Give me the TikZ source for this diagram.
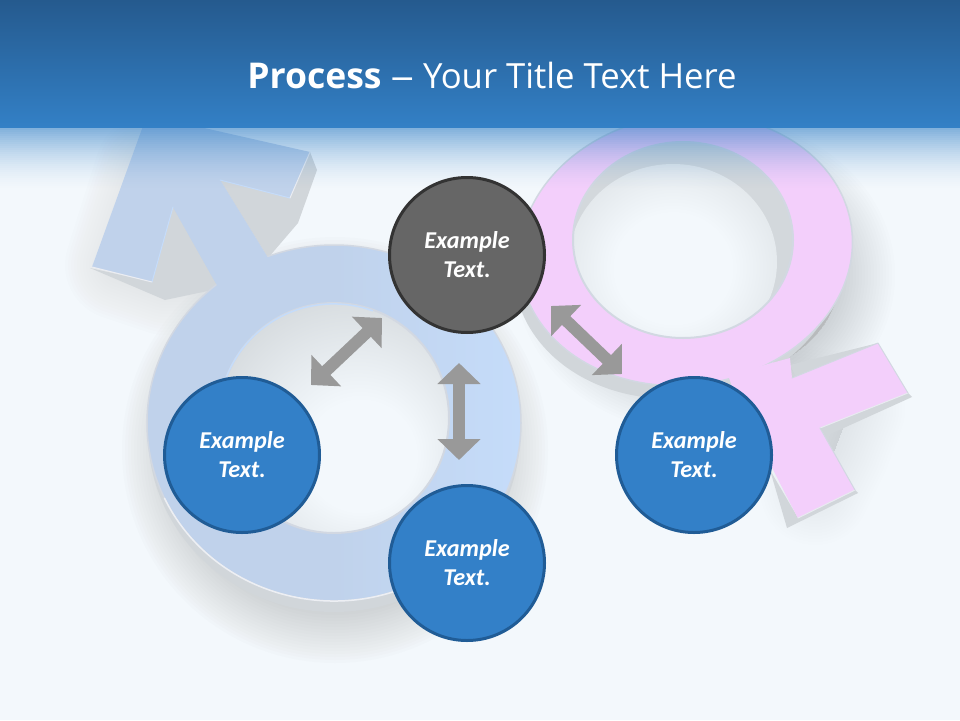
\documentclass[tikz,border=0pt]{standalone}
\usepackage{fontspec}
\setmainfont{Open Sans}
\newfontfamily\bodyFont{Carlito}
\usetikzlibrary{arrows.meta}
\definecolor{bgColor}{RGB}{243,248,252}
\definecolor{bandTop}{RGB}{37,90,142}
\definecolor{bandBottom}{RGB}{51,128,198}
\definecolor{stepBlue}{RGB}{51,128,200}
\definecolor{stepBlueEdge}{RGB}{32,92,150}
\definecolor{stepGray}{RGB}{102,102,102}
\definecolor{stepGrayEdge}{RGB}{51,51,51}
\definecolor{arrowGray}{RGB}{153,153,153}
\definecolor{maleFaceDark}{RGB}{192,210,235}
\definecolor{maleFaceLight}{RGB}{197,220,250}
\definecolor{femaleFace}{RGB}{243,207,251}
\definecolor{depthGray}{RGB}{209,214,218}
\definecolor{rimGray}{RGB}{210,216,226}
\definecolor{holeGray}{RGB}{198,203,206}
\pgfdeclareradialshading{maleHoleShade}{\pgfpoint{7bp}{-10bp}}{color(0bp)=(bgColor); color(12bp)=(bgColor); color(44bp)=(holeGray); color(70bp)=(holeGray)}
\pgfdeclareradialshading{femaleHoleShade}{\pgfpoint{0bp}{-2bp}}{color(0bp)=(bgColor); color(14bp)=(bgColor); color(50bp)=(holeGray); color(70bp)=(holeGray)}
\tikzstyle{picUnits} = [x = 1pt, y = -1pt]
\tikzstyle{shadowLayer} = [draw=black!55, fill=black!55, line join=round]
\tikzstyle{stepCircle} = [circle, minimum size=155pt, inner sep=0pt, line width=3pt, text=white, align=center, font=\bodyFont\fontsize{24.2}{29}\selectfont\bfseries\itshape]
\tikzstyle{blueStep} = [stepCircle, fill=stepBlue, draw=stepBlueEdge]
\tikzstyle{grayStep} = [stepCircle, fill=stepGray, draw=stepGrayEdge]
\tikzstyle{blockArrow} = [draw=arrowGray, line width=12pt, {Triangle[width=42pt,length=21pt,fill=arrowGray]}-{Triangle[width=42pt,length=21pt,fill=arrowGray]}]
\tikzstyle{bevelLine} = [line width=1pt, line cap=round, line join=round]
\newcommand{\softShadow}[2]{
  \foreach \spread in {2,8,...,110} {
    \filldraw [shadowLayer, opacity=#1, line width=\spread] #2;
  }
}
\newcommand{\bandEdge}{
  \foreach \row in {0,...,31} {
    \pgfmathsetmacro{\rowTop}{126 + 2 * \row}
    \pgfmathsetmacro{\rowFade}{.62 * (1 - \row / 32) ^ 1.7}
    \fill [bandBottom, opacity=\rowFade] (0,\rowTop) rectangle (960,\rowTop + 2);
  }
}
\newcommand{\maleArm}{(147,115) -- (310,152) -- (290,198) -- (220,180) -- (268,258) -- (290,300) -- (240,320) -- (218,287) -- (173,207) -- (152,282) -- (92,267) -- cycle}
\newcommand{\femaleHandle}{(770,360) -- (792,378) -- (878,343) -- (908,393) -- (820,428) -- (855,490) -- (798,518) -- (735,395) -- cycle}
\begin{document}
\begin{tikzpicture}[picUnits]
  \useasboundingbox (0,0) rectangle (960,720);
  \fill [bgColor] (0,0) rectangle (960,720);

  % soft shadows first
  \softShadow{.014}{(335,450) ellipse [x radius=158, y radius=158]}
  \softShadow{.008}{(120,265) -- (165,280) -- (200,280) -- (210,220) -- (150,170) -- cycle}
  \softShadow{.013}{(705,275) ellipse [x radius=135, y radius=105]}
  \softShadow{.005}{(800,400) -- (850,410) -- (835,450) -- (815,490) -- cycle}

  % male symbol
  \fill [depthGray] (334,433) ellipse [x radius=186, y radius=179];
  \fill [depthGray] (90,268) -- (165,300) -- (222,288) -- (173,207) -- (152,282) -- cycle;
  \fill [depthGray] (220,180) -- (268,258) -- (298,223) -- (317,170) -- (310,152) -- cycle;
  \fill [maleFaceDark] \maleArm;
  \shade [left color=maleFaceDark, right color=maleFaceLight, middle color=maleFaceDark, draw=rimGray, line width=1.5pt] (334,423) ellipse [x radius=187, y radius=178];
  \draw [bevelLine, color=white!60!rimGray, line width=1.5pt] (334,423) ++(205:187 and -178) arc [start angle=205, end angle=335, x radius=187, y radius=-178];
  \fill [maleFaceDark] (173,207) -- (218,287) -- (240,320) -- (290,300) -- (268,258) -- (220,180) -- cycle;
  \draw [bevelLine, color=maleFaceLight] (173,207) -- (152,282) (220,180) -- (290,198);
  \draw [bevelLine, color=white!55!rimGray] (92,267) -- (152,282) (290,198) -- (310,152);
  \draw [shading=maleHoleShade, draw=rimGray, line width=2pt] (334,418) ellipse [x radius=115, y radius=115];
  \draw [line width=1.5pt, color=maleFaceLight] (221,395) arc [start angle=192, end angle=290, x radius=115, y radius=115];

  % female symbol
  \fill [depthGray] (678,262) ellipse [x radius=165, y radius=136, rotate=8];
  \fill [depthGray] (770,470) -- (787,528) -- (858,493) -- (855,490) -- (798,518) -- cycle;
  \fill [depthGray] (820,428) -- (908,393) -- (912,397) -- (826,436) -- cycle;
  \fill [depthGray] (790,365) -- (800,385) -- (878,352) -- (878,343) -- cycle;
  \fill [femaleFace] \femaleHandle;
  \filldraw [fill=femaleFace, draw=rimGray, line width=1.5pt] (686,250) ellipse [x radius=167, y radius=135, rotate=8];
  \fill [femaleFace] (728,375) -- (790,358) -- (792,378) -- (835,395) -- (820,428) -- (855,490) -- (798,518) -- (735,395) -- cycle;
  \draw [bevelLine, color=white!50!rimGray] (798,518) -- (855,490) (820,428) -- (908,393);
  \draw [bevelLine, color=rimGray] (792,378) -- (878,343) -- (908,393) (855,490) -- (820,428);
  \fill [holeGray!70!bgColor] (683,240) ellipse [x radius=110, y radius=98];
  \begin{scope}
    \clip (683,240) ellipse [x radius=110, y radius=98];
    \shade [shading=femaleHoleShade] (673,262) ellipse [x radius=104, y radius=98];
  \end{scope}
  \draw [draw=rimGray, line width=2pt] (683,240) ellipse [x radius=110, y radius=98];

  % title band
  \bandEdge
  \shade [top color=bandTop, bottom color=bandBottom] (0,0) rectangle (960,127);
  \node (titleText) at (492,75) [text=white, font=\fontsize{34.7}{42}\selectfont] {\textbf{\fontsize{35.5}{42}\selectfont Process} \scalebox{1.35}[1]{--} Your Title Text Here};

  % steps
  \node (darkStep) at (467,255) [grayStep] {Example\\Text.};
  \node (leftStep) at (242,455) [blueStep] {Example\\Text.};
  \node (rightStep) at (694,455) [blueStep] {Example\\Text.};
  \node (bottomStep) at (467,563) [blueStep] {Example\\Text.};

  % arrows hang off the circles
  \draw [blockArrow] ([shift={(-85,-16)}]darkStep.south) -- ([shift={(69,9)}]leftStep.north);
  \draw [blockArrow] ([shift={(84,-28)}]darkStep.south) -- ([shift={(-72,-2)}]rightStep.north);
  \draw [blockArrow] ([shift={(-8,29)}]darkStep.south) -- ([shift={(-8,-24)}]bottomStep.north);
\end{tikzpicture}
\end{document}
